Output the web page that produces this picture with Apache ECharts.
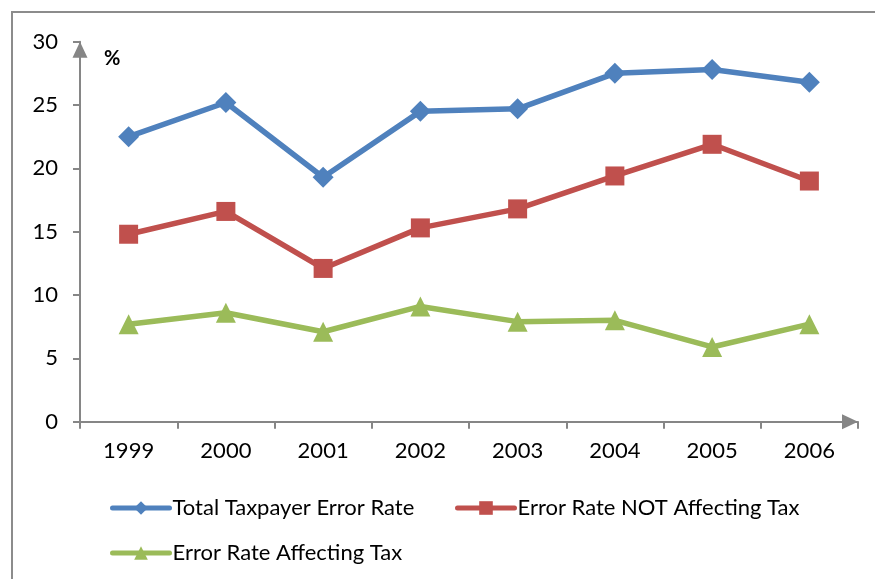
<!DOCTYPE html>
<html>
<head>
<meta charset="utf-8">
<script src="https://cdn.jsdelivr.net/npm/echarts@6/dist/echarts.min.js"></script>
<style>
  html, body { margin: 0; padding: 0; background: #fff; }
  #chart { width: 875px; height: 579px; }
</style>
</head>
<body>
<div id="chart"></div>
<script>
// Taxpayer error rates by year (%)
const years = ['1999', '2000', '2001', '2002', '2003', '2004', '2005', '2006'];
const totalRate = [22.5, 25.2, 19.3, 24.5, 24.7, 27.5, 27.8, 26.8];
const notAffectingTax = [14.8, 16.6, 12.1, 15.3, 16.8, 19.4, 21.9, 19.0];
const affectingTax = [7.7, 8.6, 7.1, 9.1, 7.9, 8.0, 5.9, 7.7];
const seriesNames = ['Total Taxpayer Error Rate', 'Error Rate NOT Affecting Tax', 'Error Rate Affecting Tax'];
const yTicks = [0, 5, 10, 15, 20, 25, 30];

const FONT = 'Lato';
const AXIS_GRAY = '#868686';
const colors = ['#4F81BD', '#C0504D', '#9BBB59'];

const chart = echarts.init(document.getElementById('chart'), null, { renderer: 'canvas' });

function legendAt(name, left, top) {
  return {
    data: [name],
    left: left,
    top: top,
    padding: 0,
    orient: 'horizontal',
    itemWidth: 57,
    itemHeight: 17,
    itemGap: 5,
    lineStyle: { width: 5, cap: 'round' },
    textStyle: { fontFamily: FONT, fontSize: 22, color: '#000', padding: [0, 0, 0, -2] },
    selectedMode: false
  };
}

function lineSeries(name, data, color, symbol, size) {
  return {
    name: name,
    type: 'line',
    data: data,
    symbol: symbol,
    symbolSize: size,
    showAllSymbol: true,
    lineStyle: { color: color, width: 5.5, cap: 'round', join: 'round' },
    itemStyle: { color: color },
    emphasis: { disabled: true },
    animation: false,
    z: 3
  };
}

const axisArrow = {
  show: true,
  lineStyle: { color: AXIS_GRAY, width: 2 },
  symbol: ['none', 'triangle'],
  symbolSize: [15, 16],
  symbolOffset: [0, -8]
};

chart.setOption({
  backgroundColor: '#fff',
  animation: false,
  grid: { left: 80, right: 17, top: 41.7, bottom: 157.3, containLabel: false },
  graphic: [
    {
      type: 'rect',
      shape: { x: 12, y: 12, width: 900, height: 600 },
      style: { fill: 'none', stroke: '#8c8c8c', lineWidth: 2 },
      z: -10
    },
    {
      type: 'text',
      left: 104,
      top: 49,
      style: { text: '%', fontFamily: FONT, fontSize: 20, fontWeight: 'bold', fill: '#000' }
    }
  ],
  legend: [
    legendAt(seriesNames[0], 110, 497),
    legendAt(seriesNames[1], 455, 497),
    legendAt(seriesNames[2], 110, 542)
  ],
  xAxis: {
    type: 'category',
    data: years,
    boundaryGap: true,
    axisLine: axisArrow,
    axisTick: { show: true, length: 7, inside: false, lineStyle: { color: AXIS_GRAY, width: 2 } },
    axisLabel: { color: '#000', fontFamily: FONT, fontSize: 22, margin: 18 },
    splitLine: { show: false }
  },
  yAxis: {
    type: 'value',
    min: yTicks[0],
    max: yTicks[yTicks.length - 1],
    interval: yTicks[1] - yTicks[0],
    axisLine: axisArrow,
    axisTick: { show: true, length: 7, inside: false, lineStyle: { color: AXIS_GRAY, width: 2 } },
    axisLabel: { color: '#000', fontFamily: FONT, fontSize: 22, margin: 22 },
    splitLine: { show: false }
  },
  series: [
    lineSeries(seriesNames[0], totalRate, colors[0], 'diamond', 21),
    lineSeries(seriesNames[1], notAffectingTax, colors[1], 'rect', 19),
    lineSeries(seriesNames[2], affectingTax, colors[2], 'triangle', 20)
  ]
});
</script>
</body>
</html>
